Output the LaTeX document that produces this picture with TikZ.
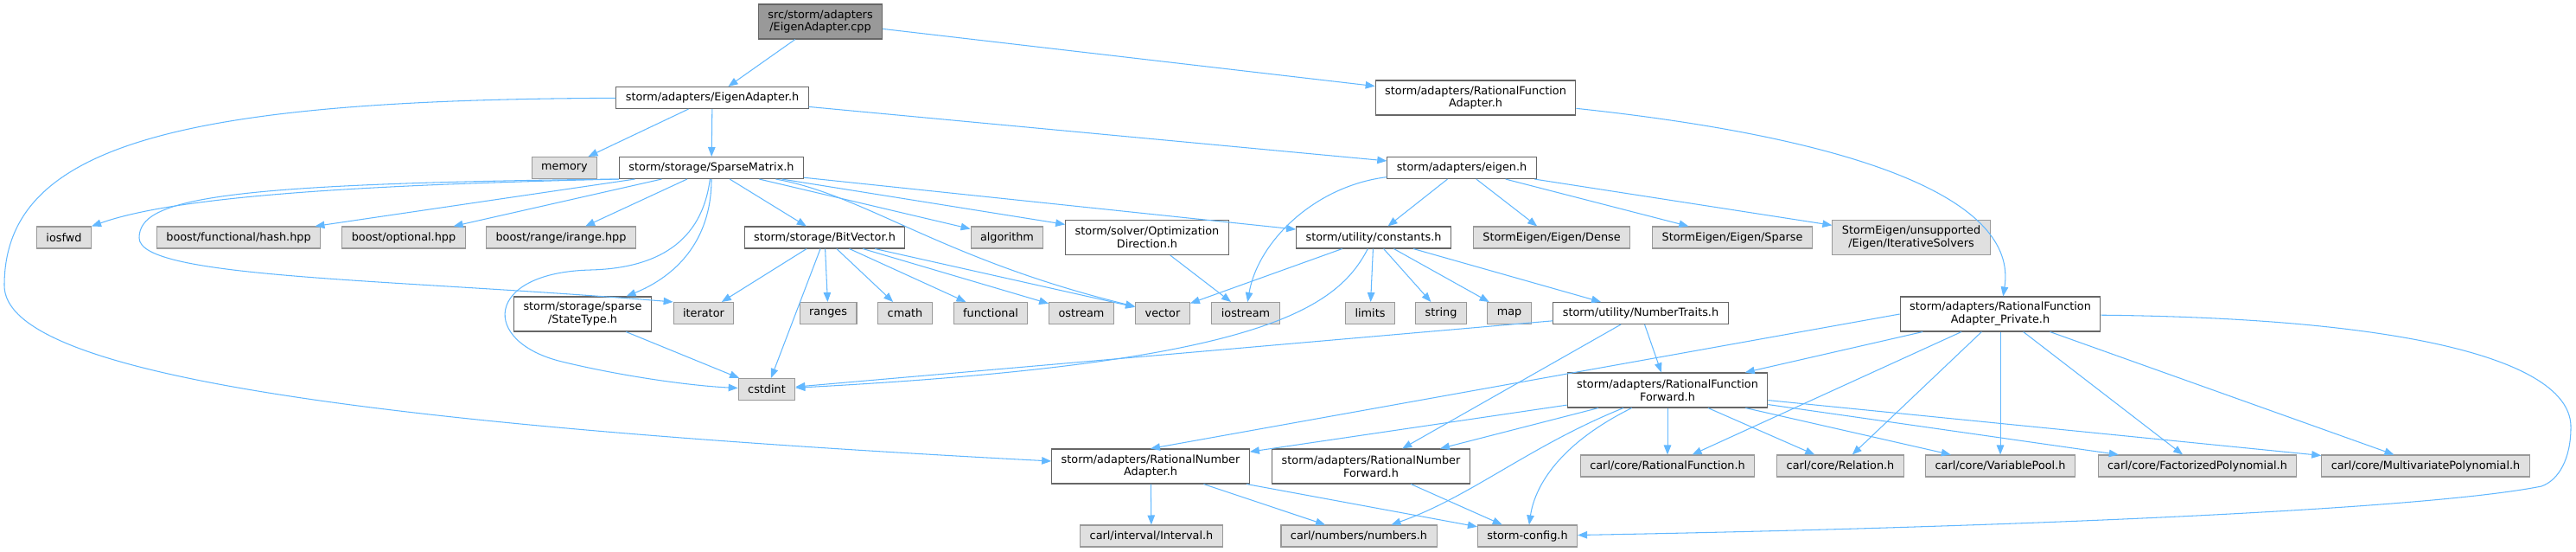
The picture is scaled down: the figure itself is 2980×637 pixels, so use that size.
\documentclass[tikz,border=0pt]{standalone}
\usepackage{fontspec}
\setmainfont{DejaVu Sans}
\usepackage{xcolor}
\usepackage{tikz}
\usetikzlibrary{arrows.meta}
\definecolor{edgeblue}{HTML}{63B8FF}
\definecolor{boxline}{HTML}{666666}
\definecolor{extline}{HTML}{999999}
\definecolor{extfill}{HTML}{E0E0E0}
\definecolor{rootfill}{HTML}{999999}

\begin{document}
\begin{tikzpicture}[x=0.02cm, y=-0.02cm, >={Triangle[length=0.22cm,width=0.17cm]},
    filebox/.style={draw=boxline, fill=white, line width=0.6pt, font=\fontsize{7.3}{8.4}\selectfont,
        inner xsep=0.22cm, inner ysep=0.1cm, minimum height=0.5cm, align=center},
    twoline/.style={minimum height=0.8cm},
    extbox/.style={filebox, draw=extline, fill=extfill},
    rootbox/.style={filebox, fill=rootfill},
    dep/.style={->, draw=edgeblue, line width=0.6pt}]
    \useasboundingbox (0,0) rectangle (2980,637);

    \node[rootbox, twoline] (src) at (949,25) {src/storm/adapters\\/EigenAdapter.cpp};
    \node[filebox] (eigenadapter) at (824,113) {storm/adapters/EigenAdapter.h};
    \node[filebox, twoline] (rfadapter) at (1707,113) {storm/adapters/RationalFunction\\Adapter.h};
    \node[extbox] (memory) at (653,194) {memory};
    \node[filebox] (sparsematrix) at (823,194) {storm/storage/SparseMatrix.h};
    \node[filebox] (eigen) at (1691,194) {storm/adapters/eigen.h};
    \node[extbox] (iosfwd) at (74,274.5) {iosfwd};
    \node[extbox] (hash) at (276,274.5) {boost/functional/hash.hpp};
    \node[extbox] (optional) at (467,274.5) {boost/optional.hpp};
    \node[extbox] (irange) at (649,274.5) {boost/range/irange.hpp};
    \node[filebox] (bitvector) at (954,274.5) {storm/storage/BitVector.h};
    \node[extbox] (algorithm) at (1165,274.5) {algorithm};
    \node[filebox, twoline] (optdir) at (1327,274.5) {storm/solver/Optimization\\Direction.h};
    \node[filebox] (constants) at (1589,274.5) {storm/utility/constants.h};
    \node[extbox] (dense) at (1795,274.5) {StormEigen/Eigen/Dense};
    \node[extbox] (sparse) at (2004,274.5) {StormEigen/Eigen/Sparse};
    \node[extbox, twoline] (iterative) at (2211,274.5) {StormEigen/unsupported\\/Eigen/IterativeSolvers};
    \node[filebox, twoline] (statetype) at (674,363) {storm/storage/sparse\\/StateType.h};
    \node[extbox] (iterator) at (814,362) {iterator};
    \node[extbox] (ranges) at (958,362) {ranges};
    \node[extbox] (cmath) at (1047,362) {cmath};
    \node[extbox] (functional) at (1146,362) {functional};
    \node[extbox] (ostream) at (1251,362) {ostream};
    \node[extbox] (vector) at (1345,362) {vector};
    \node[extbox] (iostream) at (1441,362) {iostream};
    \node[extbox] (limits) at (1585,362) {limits};
    \node[extbox] (string) at (1667,362) {string};
    \node[extbox] (map) at (1746,362) {map};
    \node[filebox] (numbertraits) at (1898,362) {storm/utility/NumberTraits.h};
    \node[filebox, twoline] (rfprivate) at (2314,363) {storm/adapters/RationalFunction\\Adapter\_Private.h};
    \node[extbox] (cstdint) at (887,450) {cstdint};
    \node[filebox, twoline] (rfforward) at (1929,451) {storm/adapters/RationalFunction\\Forward.h};
    \node[filebox, twoline] (rnadapter) at (1331,539) {storm/adapters/RationalNumber\\Adapter.h};
    \node[filebox, twoline] (rnforward) at (1586,539) {storm/adapters/RationalNumber\\Forward.h};
    \node[extbox] (rationalfunction) at (1929,538.5) {carl/core/RationalFunction.h};
    \node[extbox] (relation) at (2129,538.5) {carl/core/Relation.h};
    \node[extbox] (variablepool) at (2314,538.5) {carl/core/VariablePool.h};
    \node[extbox] (factorized) at (2542,538.5) {carl/core/FactorizedPolynomial.h};
    \node[extbox] (multivariate) at (2806,538.5) {carl/core/MultivariatePolynomial.h};
    \node[extbox] (interval) at (1332,619.5) {carl/interval/Interval.h};
    \node[extbox] (numbers) at (1572,619.5) {carl/numbers/numbers.h};
    \node[extbox] (config) at (1767,619.5) {storm-config.h};

    \draw[dep] (src) -- (eigenadapter);
    \draw[dep] (src) -- (rfadapter);
    \draw[dep] (eigenadapter) -- (memory);
    \draw[dep] (eigenadapter) -- (sparsematrix);
    \draw[dep] (eigenadapter) -- (eigen);
    \draw[dep] (eigenadapter) .. controls (200,115) and (5,170) .. (5,330) .. controls (5,430) and (400,490) .. (rnadapter);
    \draw[dep] (rfadapter) .. controls (2150,160) and (2335,230) .. (rfprivate);

    \draw[dep] (sparsematrix.south west) .. controls (400,214) and (200,228) .. (iosfwd.north east);
    \draw[dep] (sparsematrix.south west) .. controls (250,212) and (161,230) .. (161,275) .. controls (161,322) and (450,322) .. (iterator.north west);
    \draw[dep] (sparsematrix) -- (hash);
    \draw[dep] (sparsematrix) -- (optional);
    \draw[dep] (sparsematrix) -- (irange);
    \draw[dep] (sparsematrix) .. controls (823,280) and (780,320) .. (statetype);
    \draw[dep] (sparsematrix) .. controls (812,280) and (760,310) .. (683,312) .. controls (560,315) and (555,395) .. (650,418) .. controls (720,435) and (800,446) .. (cstdint);
    \draw[dep] (sparsematrix) -- (bitvector);
    \draw[dep] (sparsematrix) -- (algorithm);
    \draw[dep] (sparsematrix) -- (optdir);
    \draw[dep] (sparsematrix) .. controls (1000,225) and (1090,300) .. (vector);
    \draw[dep] (sparsematrix) -- (constants);

    \draw[dep] (bitvector) -- (iterator);
    \draw[dep] (bitvector) -- (cstdint);
    \draw[dep] (bitvector) -- (ranges);
    \draw[dep] (bitvector) -- (cmath);
    \draw[dep] (bitvector) -- (functional);
    \draw[dep] (bitvector) -- (ostream);
    \draw[dep] (bitvector) -- (vector);
    \draw[dep] (statetype) -- (cstdint);
    \draw[dep] (optdir) -- (iostream);

    \draw[dep] (eigen) -- (constants);
    \draw[dep] (eigen) -- (dense);
    \draw[dep] (eigen) -- (sparse);
    \draw[dep] (eigen) -- (iterative);
    \draw[dep] (eigen) .. controls (1520,215) and (1455,280) .. (iostream);

    \draw[dep] (constants) -- (vector);
    \draw[dep] (constants) .. controls (1545,360) and (1450,420) .. (cstdint);
    \draw[dep] (constants) -- (limits);
    \draw[dep] (constants) -- (string);
    \draw[dep] (constants) -- (map);
    \draw[dep] (constants) -- (numbertraits);

    \draw[dep] (numbertraits) -- (cstdint);
    \draw[dep] (numbertraits) -- (rnforward);
    \draw[dep] (numbertraits) -- (rfforward);

    \draw[dep] (rfprivate.west) -- (rnadapter.north);
    \draw[dep] (rfprivate) -- (rfforward);
    \draw[dep] (rfprivate) -- (rationalfunction);
    \draw[dep] (rfprivate) -- (relation);
    \draw[dep] (rfprivate) -- (variablepool);
    \draw[dep] (rfprivate) -- (factorized);
    \draw[dep] (rfprivate) -- (multivariate);
    \draw[dep] (rfprivate) .. controls (2800,368) and (2975,420) .. (2974,494) .. controls (2974,530) and (2960,555) .. (2940,562) .. controls (2800,590) and (2300,610) .. (config);

    \draw[dep] (rfforward) -- (rnadapter);
    \draw[dep] (rfforward) -- (rnforward);
    \draw[dep] (rfforward) .. controls (1770,515) and (1700,575) .. (numbers);
    \draw[dep] (rfforward) .. controls (1800,515) and (1775,565) .. (config);
    \draw[dep] (rfforward) -- (rationalfunction);
    \draw[dep] (rfforward) -- (relation);
    \draw[dep] (rfforward) -- (variablepool);
    \draw[dep] (rfforward) -- (factorized);
    \draw[dep] (rfforward) -- (multivariate);

    \draw[dep] (rnadapter) -- (interval);
    \draw[dep] (rnadapter) -- (numbers);
    \draw[dep] (rnadapter) -- (config);
    \draw[dep] (rnforward) -- (config);
\end{tikzpicture}
\end{document}
